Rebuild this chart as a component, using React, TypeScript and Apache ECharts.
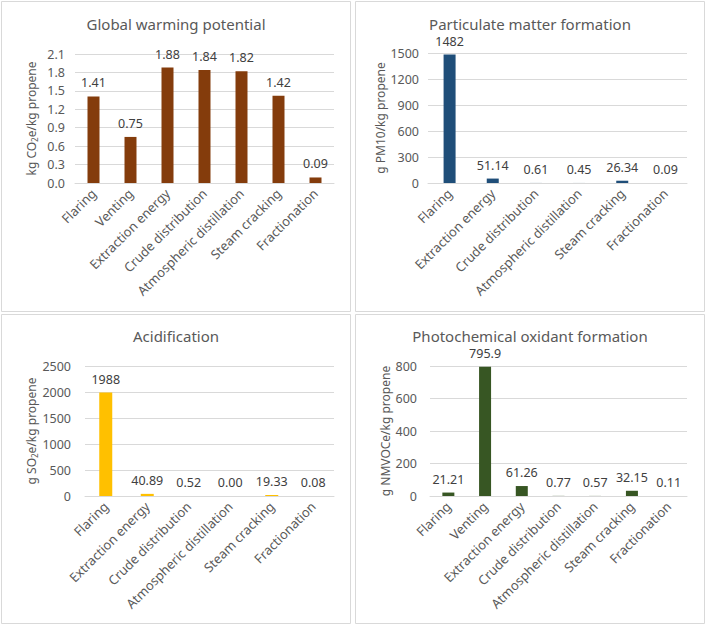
import React, { useEffect, useRef } from "react";
import * as echarts from "echarts";

const catsGwp = ["Flaring", "Venting", "Extraction energy", "Crude distribution", "Atmospheric distillation", "Steam cracking", "Fractionation"];
const catsPm = ["Flaring", "Extraction energy", "Crude distribution", "Atmospheric distillation", "Steam cracking", "Fractionation"];
const catsAcid = ["Flaring", "Extraction energy", "Crude distribution", "Atmospheric distillation", "Steam cracking", "Fractionation"];
const catsPhoto = ["Flaring", "Venting", "Extraction energy", "Crude distribution", "Atmospheric distillation", "Steam cracking", "Fractionation"];

const gwpValues = [1.41, 0.75, 1.88, 1.84, 1.82, 1.42, 0.09];
const gwpLabels = ["1.41", "0.75", "1.88", "1.84", "1.82", "1.42", "0.09"];
const pmValues = [1482, 51.14, 0.61, 0.45, 26.34, 0.09];
const pmLabels = ["1482", "51.14", "0.61", "0.45", "26.34", "0.09"];
const acidValues = [1988, 40.89, 0.52, 0.0, 19.33, 0.08];
const acidLabels = ["1988", "40.89", "0.52", "0.00", "19.33", "0.08"];
const photoValues = [21.21, 795.9, 61.26, 0.77, 0.57, 32.15, 0.11];
const photoLabels = ["21.21", "795.9", "61.26", "0.77", "0.57", "32.15", "0.11"];

const titles = ["Global warming potential", "Particulate matter formation", "Acidification", "Photochemical oxidant formation"];

const FONT = "Noto Sans";
const GRAY = "#595959";
const GRID_LINE = "#d9d9d9";

export default function App() {
  const ref = useRef<HTMLDivElement>(null);
  useEffect(() => {
    if (!ref.current) return;
    const chart = echarts.init(ref.current, null, { renderer: "svg" });

    const grids = [
      { left: 75, top: 54, width: 259, height: 129 },
      { left: 428, top: 53, width: 259, height: 130 },
      { left: 85, top: 366, width: 249, height: 130 },
      { left: 430, top: 366, width: 257, height: 130 },
    ];
    const cats = [catsGwp, catsPm, catsAcid, catsPhoto];
    const vals = [gwpValues, pmValues, acidValues, photoValues];
    const labs = [gwpLabels, pmLabels, acidLabels, photoLabels];
    const colors = ["#843C0C", "#1F4E79", "#FFC000", "#375623"];
    const yMax = [2.1, 1500, 2500, 800];
    const yInt = [0.3, 300, 500, 200];
    const yMargin = [10, 9, 14, 13];
    const nameGap = [37, 35, 45, 38];
    const names = [
      "{a|kg CO}{s|2}{a|e/kg propene}",
      "{a|g PM10/kg propene}",
      "{a|g SO}{s|2}{a|e/kg propene}",
      "{a|g NMVOCe/kg propene}",
    ];
    const barW = [12, 12, 13, 12];
    const titlePos = [
      [176, 24],
      [530, 24],
      [176, 336],
      [530, 336],
    ];

    const option: any = {
      animation: false,
      backgroundColor: "#ffffff",
      grid: grids.map((g) => ({ ...g, containLabel: false })),
      xAxis: cats.map((c, i) => ({
        type: "category",
        gridIndex: i,
        data: c,
        axisLine: { show: true, lineStyle: { color: GRID_LINE, width: 1 } },
        axisTick: { show: false },
        axisLabel: {
          rotate: 45,
          interval: 0,
          margin: 8,
          color: GRAY,
          fontFamily: FONT,
          fontSize: 13,
        },
      })),
      yAxis: cats.map((c, i) => ({
        type: "value",
        gridIndex: i,
        min: 0,
        max: yMax[i],
        interval: yInt[i],
        axisLine: { show: false },
        axisTick: { show: false },
        splitLine: { lineStyle: { color: GRID_LINE, width: 1 } },
        axisLabel: {
          color: GRAY,
          fontFamily: FONT,
          fontSize: 12.5,
          margin: yMargin[i],
          formatter: (v: number) => (i === 0 ? v.toFixed(1) : String(Math.round(v))),
        },
        name: names[i],
        nameLocation: "middle",
        nameRotate: 90,
        nameGap: nameGap[i],
        nameTextStyle: {
          rich: {
            a: { fontFamily: FONT, fontSize: 12, color: GRAY },
            s: { fontFamily: FONT, fontSize: 8, color: GRAY, verticalAlign: "bottom", padding: [6, 0, 0, 0] },
          },
        },
      })),
      series: cats.map((c, i) => ({
        type: "bar",
        xAxisIndex: i,
        yAxisIndex: i,
        data: vals[i],
        barWidth: barW[i],
        itemStyle: { color: colors[i] },
        label: {
          show: true,
          position: "top",
          distance: 7,
          color: "#404040",
          fontFamily: FONT,
          fontSize: 12.5,
          formatter: (p: any) => labs[i][p.dataIndex],
        },
      })),
      graphic: [
        { type: "rect", z: -10, shape: { x: 1.5, y: 1.5, width: 349, height: 310 }, style: { fill: "#fff", stroke: GRID_LINE, lineWidth: 1 } },
        { type: "rect", z: -10, shape: { x: 355.5, y: 1.5, width: 349, height: 310 }, style: { fill: "#fff", stroke: GRID_LINE, lineWidth: 1 } },
        { type: "rect", z: -10, shape: { x: 1.5, y: 314.5, width: 349, height: 309 }, style: { fill: "#fff", stroke: GRID_LINE, lineWidth: 1 } },
        { type: "rect", z: -10, shape: { x: 355.5, y: 314.5, width: 349, height: 309 }, style: { fill: "#fff", stroke: GRID_LINE, lineWidth: 1 } },
        ...titles.map((t, i) => ({
          type: "text",
          x: titlePos[i][0],
          y: titlePos[i][1],
          style: {
            text: t,
            fill: GRAY,
            fontFamily: FONT,
            fontSize: 15,
            textAlign: "center",
            textVerticalAlign: "middle",
          },
        })),
      ],
    };
    chart.setOption(option);
    return () => chart.dispose();
  }, []);
  return (
    <div
      ref={ref}
      style={{ position: "fixed", left: 0, top: 0, width: 707, height: 626 }}
    />
  );
}
